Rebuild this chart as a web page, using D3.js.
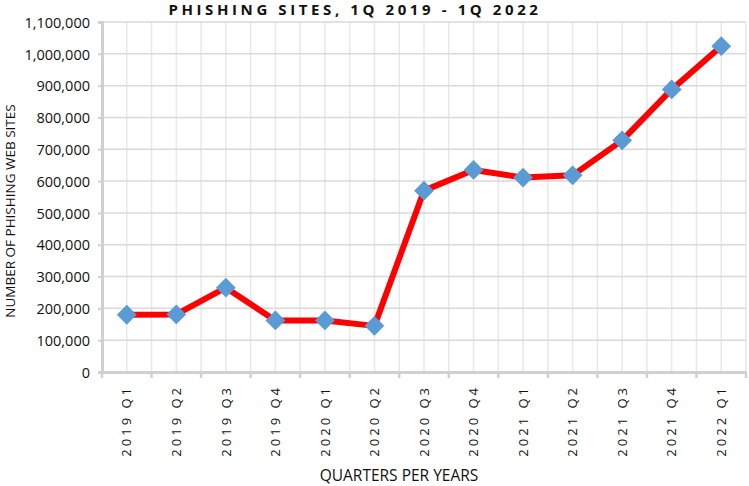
<!DOCTYPE html>
<html>
<head>
<meta charset="utf-8">
<script src="https://cdn.jsdelivr.net/npm/d3@7"></script>
<style>
  body { margin: 0; background: #fff; }
  text { font-family: "Open Sans", "Liberation Sans", sans-serif; fill: #111; }
</style>
</head>
<body>
<div id="chart"></div>
<script>
// quarters and number of phishing sites
var quarters = ["2019 Q1", "2019 Q2", "2019 Q3", "2019 Q4", "2020 Q1", "2020 Q2",
  "2020  Q3", "2020 Q4", "2021 Q1", "2021 Q2", "2021 Q3", "2021 Q4", "2022 Q1"];
var sites = [180000, 181000, 265000, 162000, 162000, 145000,
  570000, 635000, 611000, 618000, 728000, 888000, 1024000];
var yTicks = [0, 100000, 200000, 300000, 400000, 500000, 600000,
  700000, 800000, 900000, 1000000, 1100000];

var W = 749, H = 486;
var margin = { top: 22, right: 3, bottom: 114, left: 102 },
  width = W - margin.left - margin.right,
  height = H - margin.top - margin.bottom;

var svg = d3.select("#chart").append("svg")
  .attr("width", W).attr("height", H);

var g = svg.append("g")
  .attr("transform", "translate(" + margin.left + "," + margin.top + ")");

var x = d3.scaleBand().domain(quarters).range([0, width]);
var y = d3.scaleLinear().domain([0, 1100000]).range([height, 0]);

// vertical grid: at band edges and band centres
var vLines = [];
quarters.forEach(function(q) {
  vLines.push(x(q));
  vLines.push(x(q) + x.bandwidth() / 2);
});
vLines.push(width);
g.selectAll(".vgrid").data(vLines).enter().append("line")
  .attr("x1", function(d) { return d; }).attr("x2", function(d) { return d; })
  .attr("y1", 0).attr("y2", height)
  .attr("stroke", "#e8e8e8").attr("stroke-width", 1.5);

// horizontal grid
g.selectAll(".hgrid").data(yTicks).enter().append("line")
  .attr("x1", 0).attr("x2", width)
  .attr("y1", function(d) { return y(d); }).attr("y2", function(d) { return y(d); })
  .attr("stroke", "#d9d9d9").attr("stroke-width", 1.5);

// y axis
var yAxis = g.append("g")
  .call(d3.axisLeft(y).tickValues(yTicks).tickSize(4).tickPadding(8)
    .tickFormat(d3.format(",")));
yAxis.select(".domain").attr("stroke", "#d0d0d0").attr("stroke-width", 3);
yAxis.selectAll(".tick line").attr("stroke", "#d0d0d0").attr("stroke-width", 2);
yAxis.selectAll("text").style("font-size", "14.5px").attr("fill", "#111")
  .attr("dy", "0.36em");

// x axis: ticks at band boundaries
var xAxis = g.append("g")
  .attr("transform", "translate(0," + height + ")")
  .call(d3.axisBottom(x).tickSize(0).tickPadding(0));
xAxis.select(".domain").attr("stroke", "#d0d0d0").attr("stroke-width", 3);
xAxis.selectAll(".tick text")
  .attr("transform", "rotate(-90)")
  .attr("x", -13).attr("y", 0).attr("dy", "0.36em")
  .style("text-anchor", "end")
  .style("font-size", "13px")
  .style("letter-spacing", "3px")
  .attr("fill", "#111");
var bounds = quarters.map(function(q) { return x(q); }).concat([width]);
xAxis.selectAll(".btick").data(bounds).enter().append("line")
  .attr("x1", function(d) { return d; }).attr("x2", function(d) { return d; })
  .attr("y1", 0).attr("y2", 6)
  .attr("stroke", "#d0d0d0").attr("stroke-width", 2.5);

// line
var line = d3.line()
  .x(function(d, i) { return x(quarters[i]) + x.bandwidth() / 2; })
  .y(function(d) { return y(d); });
g.append("path").datum(sites)
  .attr("d", line)
  .attr("fill", "none")
  .attr("stroke", "#ff0000")
  .attr("stroke-width", 6)
  .attr("stroke-linejoin", "round");

// diamond markers
g.selectAll(".pt").data(sites).enter().append("path")
  .attr("d", d3.symbol().type(d3.symbolDiamond2).size(250))
  .attr("transform", function(d, i) {
    return "translate(" + (x(quarters[i]) + x.bandwidth() / 2) + "," + y(d) + ")";
  })
  .attr("fill", "#5b9bd5");

// title
svg.append("text")
  .attr("x", 355).attr("y", 15)
  .attr("text-anchor", "middle")
  .style("font-size", "15px").style("font-weight", "bold")
  .style("letter-spacing", "3.6px")
  .text("PHISHING SITES, 1Q 2019 - 1Q 2022");

// axis titles
svg.append("text")
  .attr("transform", "translate(15," + 211 + ") rotate(-90)")
  .attr("text-anchor", "middle")
  .style("font-size", "13.5px")
  .text("NUMBER OF  PHISHING WEB SITES");

svg.append("text")
  .attr("x", 399).attr("y", 481)
  .attr("text-anchor", "middle")
  .style("font-size", "15.5px")
  .text("QUARTERS PER YEARS");
</script>
</body>
</html>
